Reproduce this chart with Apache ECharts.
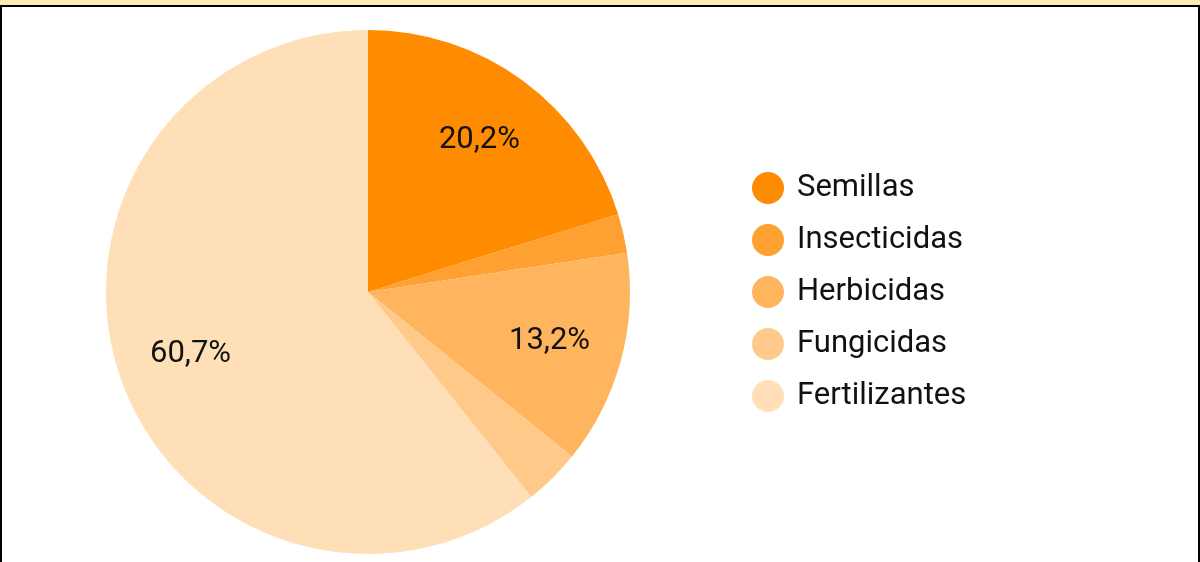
<!DOCTYPE html>
<html>
<head>
<meta charset="utf-8">
<script src="https://cdn.jsdelivr.net/npm/echarts@6/dist/echarts.min.js"></script>
<style>
  html, body { margin: 0; padding: 0; background: #ffecb3; overflow: hidden; }
  .box {
    position: absolute; left: 0; top: 5px; width: 1196px; height: 600px;
    background: #fff; border: 2px solid #000; border-bottom: none;
  }
  #chart { position: absolute; left: 0; top: 0; width: 1200px; height: 562px; }
</style>
</head>
<body>
<div class="box"></div>
<div id="chart"></div>
<script>
// datos del gráfico
const categorias = ['Semillas', 'Insecticidas', 'Herbicidas', 'Fungicidas', 'Fertilizantes'];
const valores = [20.2, 2.4, 13.2, 3.5, 60.7];
const colores = ['#ff8c00', '#ffa033', '#ffb55e', '#ffc98a', '#ffdfb7'];

const chart = echarts.init(document.getElementById('chart'));

const datos = categorias.map((c, i) => ({ name: c, value: valores[i], itemStyle: { color: colores[i] } }));

chart.setOption({
  animation: false,
  textStyle: { fontFamily: 'Roboto' },
  legend: {
    orient: 'vertical',
    left: 752,
    top: 172,
    padding: 0,
    icon: 'circle',
    itemWidth: 32,
    itemHeight: 32,
    itemGap: 20,
    selectedMode: false,
    data: categorias,
    textStyle: { fontSize: 31, color: '#111', fontFamily: 'Roboto', padding: [0, 0, 0, 8] }
  },
  series: [
    {
      type: 'pie',
      center: [368, 292],
      radius: [0, 262],
      startAngle: 90,
      clockwise: true,
      silent: true,
      label: { show: false },
      labelLine: { show: false },
      itemStyle: { borderWidth: 0 },
      data: datos
    },
    {
      // serie transparente solo para colocar las etiquetas
      type: 'pie',
      center: [368, 292],
      radius: [0, 370],
      startAngle: 90,
      clockwise: true,
      silent: true,
      legendHoverLink: false,
      itemStyle: { color: 'rgba(0,0,0,0)', borderWidth: 0 },
      label: {
        show: true,
        position: 'inside',
        fontSize: 31,
        color: '#111',
        fontFamily: 'Roboto',
        formatter: p => p.value >= 5 ? p.value.toFixed(1).replace('.', ',') + '%' : ''
      },
      labelLine: { show: false },
      data: categorias.map((c, i) => ({ name: c + ' ', value: valores[i] }))
    }
  ]
});
</script>
</body>
</html>
